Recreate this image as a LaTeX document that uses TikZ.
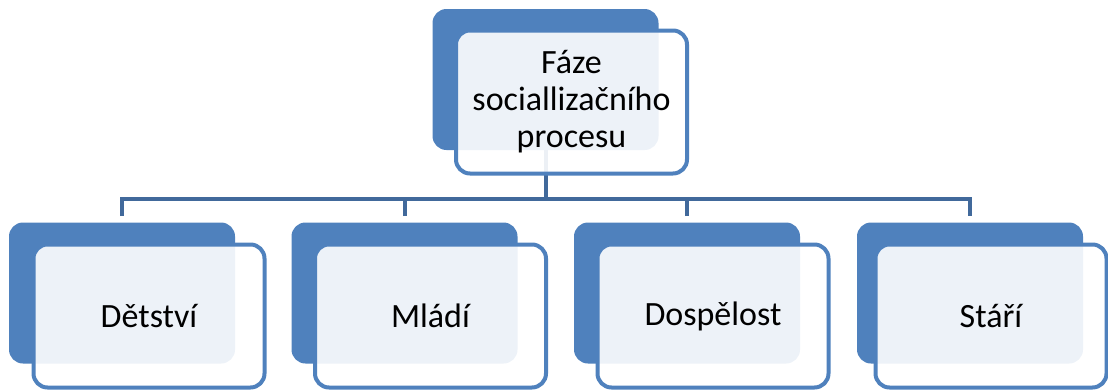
\documentclass[tikz,border=0pt]{standalone}
\usepackage{fontspec}
\setmainfont{Carlito}
\definecolor{boxblue}{HTML}{4F81BD}
\definecolor{linkblue}{HTML}{41699B}
\begin{document}
\begin{tikzpicture}[x=0.5pt,y=-0.5pt,
  back/.style={fill=boxblue,rounded corners=7pt,minimum width=113pt,minimum height=70.5pt,inner sep=0pt},
  front/.style={draw=boxblue,line width=2pt,fill=white,fill opacity=0.9,text opacity=1,rounded corners=7pt,
    minimum width=115.5pt,minimum height=71.5pt,inner sep=0pt,align=center,font=\fontsize{17}{18.5}\selectfont},
  conn/.style={draw=linkblue,line width=2pt}]
\useasboundingbox (0,0) rectangle (1108,391);
% back boxes
\node[back](tb) at (545.5,79.5){};
\node[back](b1) at (122,293){};
\node[back](b2) at (404.5,293){};
\node[back](b3) at (687,293){};
\node[back](b4) at (970,293){};
% connectors
\coordinate(bar) at (545.5,199);
\draw[conn](tb.south)--(bar);
\draw[conn]([yshift=3pt]b1.north)--(b1.north|-bar)--(b4.north|-bar)--([yshift=3pt]b4.north);
\draw[conn]([yshift=3pt]b2.north)--(b2.north|-bar);
\draw[conn]([yshift=3pt]b3.north)--(b3.north|-bar);
% front boxes
\node[front](tf) at (571.5,102){Fáze\\sociallizačního\\procesu};
\node[front](f1) at (149,316){Dětství};
\node[front](f2) at (430.5,316){Mládí};
\node[front](f3) at (713,316){Dospělost};
\node[front](f4) at (991,316){Stáří};
\end{tikzpicture}
\end{document}
